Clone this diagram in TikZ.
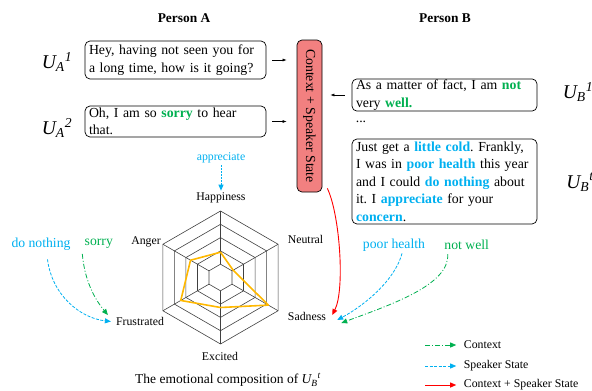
\documentclass[tikz,border=0pt]{standalone}
\usepackage{fontspec}
\setmainfont{Liberation Serif}
\usetikzlibrary{arrows.meta}
\frenchspacing

\definecolor{ctxgreen}{RGB}{0,176,80}
\definecolor{spkblue}{RGB}{0,176,240}
\definecolor{ctxred}{RGB}{255,0,0}
\definecolor{boxred}{RGB}{242,128,128}
\definecolor{emoorange}{RGB}{255,184,0}

\newcommand{\utt}[2]{{\itshape U\textsubscript{#1}\textsuperscript{#2}}}
\newcommand{\gw}[1]{\textbf{\color{ctxgreen}#1}}
\newcommand{\bw}[1]{\textbf{\color{spkblue}#1}}

\tikzset{
  uttbox/.style={draw, rounded corners=5pt, line width=0.7pt, align=left,
    inner xsep=4pt, inner ysep=1pt, font=\fontsize{13.8}{17.5}\selectfont},
  ulab/.style={font=\fontsize{19.5}{22}\selectfont},
  emo/.style={inner sep=1pt, font=\fontsize{11.8}{14}\selectfont},
  word/.style={inner sep=1pt, font=\fontsize{13.7}{16}\selectfont},
  gridline/.style={black!75, line width=0.6pt},
  emoline/.style={emoorange, line width=1.6pt, line join=round},
  flow/.style={-{Latex[length=4pt,width=3pt]}, line width=0.6pt},
  tip/.style={-{Triangle[length=6pt,width=5pt]}},
  ctxline/.style={tip, ctxgreen, line width=0.8pt, dash pattern=on 5pt off 2pt on 1pt off 2pt},
  spkline/.style={tip, spkblue, line width=0.8pt, dash pattern=on 3pt off 1.5pt},
  bothline/.style={tip, ctxred, line width=0.9pt}
}

\begin{document}
\begin{tikzpicture}[x=1pt, y=-1pt]
  \useasboundingbox (0,0) rectangle (592,391);

  \node[font=\fontsize{13.4}{16}\selectfont\bfseries] (pa) at (184,18) {Person A};
  \node[font=\fontsize{13.4}{16}\selectfont\bfseries] (pb) at (445,18) {Person B};

  \node[uttbox, text width=173pt, minimum height=38pt] (a1) at (175.5,60)
    {Hey, having not seen you for\\a long time, how is it going?};
  \node[uttbox, text width=173pt, minimum height=31pt] (a2) at (175.5,121.5)
    {Oh, I am so \gw{sorry} to hear\\that.};
  \node[uttbox, text width=177pt, minimum height=32pt] (b1) at (444.5,95)
    {As a matter of fact, I am \gw{not}\\very \gw{well.}};
  \node[font=\fontsize{13.8}{17.5}\selectfont] (dots) at (361,122) {...};
  \node[uttbox, text width=177pt, minimum height=85pt] (b2) at (444.5,181.5)
    {Just get a \bw{little cold}. Frankly,\\I was in \bw{poor health} this year\\and I could \bw{do nothing} about\\it. I \bw{appreciate} for your\\\bw{concern}.};

  \node[ulab] (ua1) at (57,62) {\utt{A}{1}};
  \node[ulab] (ua2) at (57,128) {\utt{A}{2}};
  \node[ulab] (ub1) at (578,92) {\utt{B}{1}};
  \node[ulab] (ubt) at (580,182) {\utt{B}{t}};

  \node[draw, fill=boxred, rounded corners=5pt, line width=0.7pt, inner sep=0pt,
    minimum width=25pt, minimum height=152pt, font=\fontsize{13.8}{16}\selectfont] (ctx) at (309.5,116)
    {\rotatebox{-90}{Context + Speaker State}};

  \draw[flow, shorten <=6pt, shorten >=10pt] (a1.east) -- (a1.east -| ctx.west);
  \draw[flow, shorten <=6pt, shorten >=10pt] (a2.east) -- (a2.east -| ctx.west);
  \draw[flow, shorten <=7pt, shorten >=8pt] (b1.west) -- (b1.west -| ctx.east);

  % radar of the emotions
  \begin{scope}[shift={(220.5,277.5)}, y=1pt]
    \foreach \r in {13.3,26.6,39.9,53.2,66.5}
      \draw[gridline] (90:\r) -- (150:\r) -- (210:\r) -- (270:\r) -- (330:\r) -- (30:\r) -- cycle;
    \foreach \a in {30,90,...,330}
      \draw[gridline] (\a:13.3) -- (\a:66.5);
    \draw[emoline] (90:25.3) -- (30:14.6) -- (330:55.2) -- (270:30) -- (210:45.9) -- (150:34.6) -- cycle;
  \end{scope}

  \node[emo] (hap) at (221,198) {Happiness};
  \node[emo] (neu) at (305.5,239) {Neutral};
  \node[emo] (sad) at (307,316) {Sadness};
  \node[emo] (exc) at (220,356) {Excited};
  \node[emo] (fru) at (140,321) {Frustrated};
  \node[emo] (ang) at (146,242) {Anger};

  \node[emo, text=spkblue] (appr) at (221,158) {appreciate};
  \node[word, text=spkblue] (dono) at (41,244) {do nothing};
  \node[word, text=ctxgreen] (sorry) at (98.8,244) {sorry};
  \node[word, text=spkblue] (poor) at (394,245) {poor health};
  \node[word, text=ctxgreen] (notw) at (466.7,245) {not well};

  \draw[spkline, line width=1pt, dash pattern=on 2pt off 1pt, shorten <=1pt, shorten >=1pt] (appr) -- (hap);
  \draw[spkline] ([shift={(6.5,8)}]dono.south) .. controls (52,295) and (80,318) .. ([shift={(-4,0.5)}]fru.west);
  \draw[ctxline] ([shift={(-16.5,4)}]sorry.south) .. controls (85,285) and (98,303) .. ([shift={(-7,-6)}]fru.west);
  \draw[bothline] ([shift={(5,-4)}]ctx.south east) .. controls (340,215) and (345,290) .. ([shift={(5,-1)}]sad.east);
  \draw[spkline] ([shift={(8,1)}]poor.south) .. controls (395,280) and (365,305) .. ([shift={(10,4)}]sad.east);
  \draw[ctxline] ([shift={(-19,3)}]notw.south) .. controls (450,285) and (390,305) .. ([shift={(14,7)}]sad.east);

  \node[font=\fontsize{13.5}{16}\selectfont] (cap) at (228,380) {The emotional composition of \utt{B}{t}};

  % legend
  \coordinate (lg1) at (425,345);
  \coordinate (lg2) at (425,366);
  \coordinate (lg3) at (425,385);
  \node[emo, anchor=west] (legctx) at (462.7,345) {Context};
  \node[emo, anchor=west] (legspk) at (462.7,366) {Speaker State};
  \node[emo, anchor=west] (legboth) at (462.7,385) {Context + Speaker State};
  \draw[ctxline, shorten >=6.5pt] (lg1) -- (legctx.west);
  \draw[spkline, shorten >=6.5pt] (lg2) -- (legspk.west);
  \draw[bothline, shorten >=6.5pt] (lg3) -- (legboth.west);
\end{tikzpicture}
\end{document}
